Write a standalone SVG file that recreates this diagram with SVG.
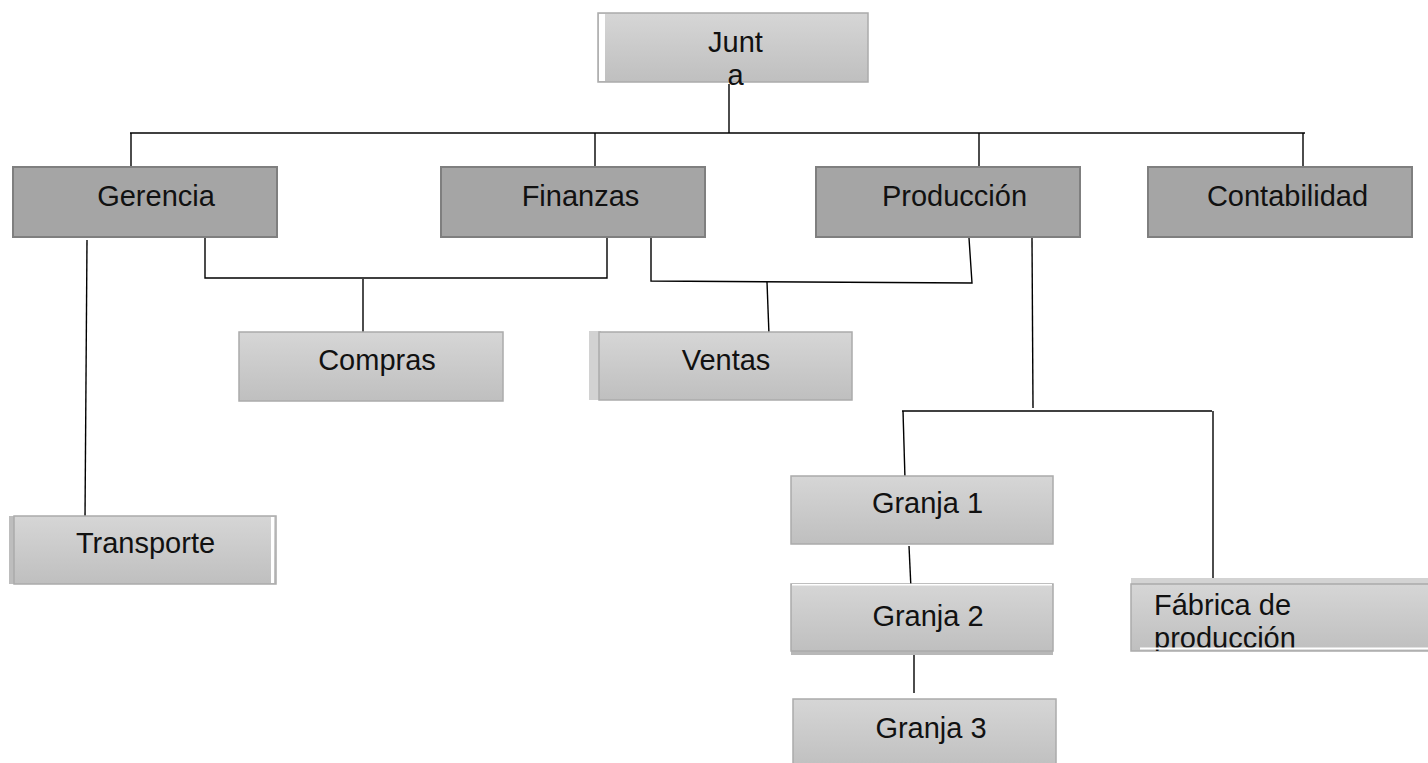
<svg xmlns="http://www.w3.org/2000/svg" width="1428" height="763" viewBox="0 0 1428 763">
<defs>
<linearGradient id="lg" x1="0" y1="0" x2="0" y2="1">
<stop offset="0" stop-color="#d6d6d6"/>
<stop offset="1" stop-color="#bfbfbf"/>
</linearGradient>
<clipPath id="fclip"><rect x="1131" y="578" width="300" height="73"/></clipPath>
</defs>
<style>
.dark{fill:#a5a5a5;stroke:#7f7f7f;stroke-width:2}
.light{fill:url(#lg);stroke:#ababab;stroke-width:1.5}
.t{font-family:"Liberation Sans",Arial,sans-serif;font-size:29px;fill:#111}
.m{text-anchor:middle}
.c{stroke:#000;stroke-width:1.4;fill:none}
</style>
<rect width="1428" height="763" fill="#fff"/>
<g id="connectors">
<polyline class="c" points="729,84 729,133"/>
<polyline class="c" points="130,133 1305,133"/>
<polyline class="c" points="131,133 131,167"/>
<polyline class="c" points="595,133 595,167"/>
<polyline class="c" points="979,133 979,167"/>
<polyline class="c" points="1303,133 1303,167"/>
<polyline class="c" points="205,237 205,278 607,278 607,238"/>
<polyline class="c" points="363,279 363,339"/>
<polyline class="c" points="651,238 651,281 972,283 969,238"/>
<polyline class="c" points="767,282 769,335"/>
<polyline class="c" points="87,240 85,519"/>
<polyline class="c" points="1032,238 1033,408"/>
<polyline class="c" points="902,411 1212,411"/>
<polyline class="c" points="903,411 905,479"/>
<polyline class="c" points="1213,411 1213,582"/>
<polyline class="c" points="909,546 911,589"/>
<polyline class="c" points="914,654 914,693"/>
</g>
<g id="junta">
<rect class="light" x="598" y="13" width="270" height="69"/>
<rect x="599" y="14" width="6" height="67" fill="#fff"/>
<text class="t m" x="735.5" y="52">Junt</text>
<text class="t m" x="735.5" y="85">a</text>
</g>
<g id="gerencia">
<rect class="dark" x="13" y="167" width="264" height="70"/>
<text class="t m" x="156" y="206">Gerencia</text>
</g>
<g id="finanzas">
<rect class="dark" x="441" y="167" width="264" height="70"/>
<text class="t m" x="580.5" y="206">Finanzas</text>
</g>
<g id="produccion">
<rect class="dark" x="816" y="167" width="264" height="70"/>
<text class="t m" x="954.5" y="206">Producción</text>
</g>
<g id="contabilidad">
<rect class="dark" x="1148" y="167" width="264" height="70"/>
<text class="t m" x="1287.5" y="206">Contabilidad</text>
</g>
<g id="compras">
<rect class="light" x="239" y="332" width="264" height="69"/>
<text class="t m" x="377" y="370">Compras</text>
</g>
<g id="ventas">
<rect x="589" y="331" width="12" height="69" fill="#d2d2d2"/>
<rect class="light" x="599" y="332" width="253" height="68"/>
<text class="t m" x="726" y="370">Ventas</text>
</g>
<g id="transporte">
<rect x="9" y="516" width="7" height="68" fill="#bdbdbd"/>
<rect class="light" x="14" y="516" width="262" height="68"/>
<rect x="271" y="517" width="3" height="66" fill="#fff"/>
<text class="t m" x="145.5" y="553">Transporte</text>
</g>
<g id="granja1">
<rect class="light" x="791" y="476" width="262" height="68"/>
<text class="t m" x="927.5" y="513">Granja 1</text>
</g>
<g id="granja2">
<rect x="791" y="648" width="262" height="7" fill="#b8b8b8"/>
<rect class="light" x="791" y="584" width="262" height="67"/>
<rect x="792" y="584" width="260" height="1.5" fill="#fff"/>
<text class="t m" x="928" y="626">Granja 2</text>
</g>
<g id="granja3">
<rect class="light" x="793" y="699" width="263" height="70"/>
<text class="t m" x="931" y="738">Granja 3</text>
</g>
<g id="fabrica">
<rect x="1131" y="578" width="300" height="7" fill="#d3d3d3"/>
<rect class="light" x="1131" y="584" width="300" height="67"/>
<g clip-path="url(#fclip)">
<text class="t" x="1154" y="615">Fábrica de</text>
<text class="t" x="1154" y="648">producción</text>
</g>
<rect x="1140" y="647.5" width="290" height="2" fill="#fff"/>
</g>
</svg>
